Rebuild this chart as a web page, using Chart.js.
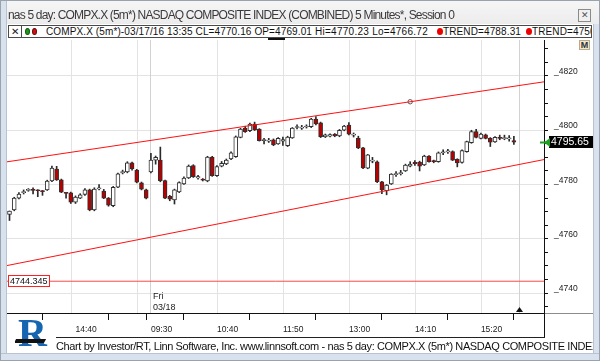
<!DOCTYPE html>
<html><head><meta charset="utf-8">
<script src="https://cdn.jsdelivr.net/npm/chart.js@4.4.1/dist/chart.umd.min.js"></script>
<style>
html,body{margin:0;padding:0;width:600px;height:361px;overflow:hidden;background:#fff;font-family:"Liberation Sans",Arial,sans-serif;}
#wrap{position:relative;width:600px;height:361px;overflow:hidden;}
.abs{position:absolute;}
.t{position:absolute;white-space:nowrap;line-height:1;}
#c{position:absolute;left:0;top:0;}
</style></head><body>
<div id="wrap">
  <div class="abs" style="left:0;top:0;width:600px;height:24px;background:linear-gradient(#f6f6f6,#ececec);"></div>
  <div class="abs" style="left:0;top:0;width:7px;height:361px;background:#d8e2ef;border-right:1px solid #b9c3d0;box-sizing:border-box;"></div>
  <div class="abs" style="left:593px;top:24px;width:7px;height:337px;background:#d8e2ef;border-left:1px solid #b9c3d0;box-sizing:border-box;"></div>
  <div class="abs" style="left:0;top:353px;width:600px;height:8px;background:#d8e2ef;border-top:1px solid #b9c3d0;box-sizing:border-box;"></div>
  <div class="abs" style="left:0;top:0;width:600px;height:361px;border:1px solid #9aa3ad;box-sizing:border-box;"></div>

  <canvas id="c" width="600" height="361"></canvas>

  <div class="t" id="title" style="left:8px;top:9px;font-size:12px;color:#3a3a3a;">nas 5 day: COMPX.X (5m*) NASDAQ COMPOSITE INDEX (COMBINED) 5 Minutes*, Session 0</div>
  <div class="abs" style="left:578px;top:9px;width:11px;height:11px;border:1px solid #8a8a8a;background:#f0f0f0;font-size:9px;line-height:11px;text-align:center;color:#555;">&#x2715;</div>

  <div class="abs" style="left:8px;top:25px;width:584px;height:13px;border:1px solid #4a4a4a;background:#fff;box-sizing:border-box;overflow:hidden;">
    <div class="abs" style="left:0px;top:0px;width:12px;height:11px;border-right:1px solid #4a4a4a;font-size:10px;line-height:11px;text-align:center;color:#222;">&#x2715;</div>
    <div class="abs" style="left:16px;top:2px;width:5px;height:7px;border-radius:50%;background:#1c9a1c;border:1px solid #135c13;box-sizing:border-box;"></div>
    <div class="abs" style="left:23px;top:2px;width:5px;height:7px;border-radius:50%;background:#d41010;border:1px solid #6d0b0b;box-sizing:border-box;"></div>
    <div class="t" id="lg1" style="left:37px;top:1px;font-size:10px;color:#111;">COMPX.X (5m*)-03/17/16 13:35 CL=4770.16 OP=4769.01</div>
    <div class="t" id="lg2" style="left:306px;top:1px;font-size:10px;color:#111;">Hi=4770.23 Lo=4766.72</div>
    <div class="abs" style="left:428px;top:2px;width:6px;height:7px;border-radius:50%;background:#ee0000;"></div>
    <div class="t" id="lg3" style="left:434px;top:1px;font-size:10px;color:#111;">TREND=4788.31</div>
    <div class="abs" style="left:517px;top:2px;width:6px;height:7px;border-radius:50%;background:#ee0000;"></div>
    <div class="t" id="lg4" style="left:523px;top:1px;font-size:10px;color:#111;">TREND=4750.14</div>
  </div>

  <div class="abs" style="left:268px;top:38px;width:17px;height:2px;background:#111;"></div>
  <div class="abs" style="left:579px;top:40px;width:11px;height:10px;background:#efe6cf;border:1px solid #b9ab88;box-sizing:border-box;font-size:9px;font-weight:bold;line-height:9px;text-align:center;color:#333;">M</div>

  <div class="abs" style="left:544px;top:313px;width:49px;height:1px;background:#8c8c8c;"></div>
  <div class="abs" style="left:544px;top:313px;width:1px;height:24px;background:#111;"></div>
  <div class="abs" style="left:56px;top:337px;width:489px;height:1px;background:#222;"></div>

  <div class="abs" style="left:15px;top:318px;width:34px;height:34px;overflow:hidden;">
    <div class="abs" style="left:3px;top:-5px;font-family:'Liberation Serif',serif;font-weight:bold;font-size:40px;color:#1565b0;line-height:1;">R</div>
    <div class="abs" style="left:0px;top:21px;width:30px;height:4px;background:#111;transform:skewX(-30deg);"></div>
  </div>

  <div class="abs" style="left:56px;top:340px;width:537px;height:13px;overflow:hidden;">
    <div class="t" id="foot" style="left:0;top:1px;font-size:11px;color:#111;">Chart by Investor/RT, Linn Software, Inc. www.linnsoft.com - nas 5 day: COMPX.X (5m*) NASDAQ COMPOSITE INDEX</div>
  </div>
</div>
<script>
// ---- categories (5-minute bars) ----
const day1Times = ['13:30','13:35','13:40','13:45','13:50','13:55','14:00','14:05','14:10','14:15','14:20','14:25','14:30','14:35','14:40','14:45','14:50','14:55','15:00','15:05','15:10','15:15','15:20','15:25','15:30','15:35','15:40','15:45','15:50','15:55'];
const day2Times = ['09:30','09:35','09:40','09:45','09:50','09:55','10:00','10:05','10:10','10:15','10:20','10:25','10:30','10:35','10:40','10:45','10:50','10:55','11:00','11:05','11:10','11:15','11:20','11:25','11:30','11:35','11:40','11:45','11:50','11:55','12:00','12:05','12:10','12:15','12:20','12:25','12:30','12:35','12:40','12:45','12:50','12:55','13:00','13:05','13:10','13:15','13:20','13:25','13:30','13:35','13:40','13:45','13:50','13:55','14:00','14:05','14:10','14:15','14:20','14:25','14:30','14:35','14:40','14:45','14:50','14:55','15:00','15:05','15:10','15:15','15:20','15:25','15:30','15:35','15:40','15:45','15:50','15:55'];

// ---- series values (OHLC) ----
const opens  = [4769.0,4770.6,4775.0,4777.0,4777.8,4778.2,4778.0,4777.6,4778.0,4781.3,4785.7,4781.7,4776.9,4776.9,4773.5,4775.0,4776.3,4778.0,4770.6,4778.4,4777.6,4775.0,4772.2,4779.0,4784.3,4784.6,4788.0,4785.3,4780.6,4778.0,
                4784.6,4789.0,4789.0,4781.4,4775.6,4774.3,4777.3,4780.2,4782.4,4787.0,4782.4,4782.0,4781.3,4790.1,4783.3,4786.8,4787.6,4789.4,4790.3,4797.4,4800.8,4799.8,4802.3,4800.4,4796.2,4796.0,4796.5,4795.0,4796.0,4794.3,4797.2,4801.0,4800.8,4801.2,4801.3,4804.1,4802.7,4797.6,4797.8,4798.5,4797.9,4800.0,4801.9,4798.2,4797.0,4793.5,4786.0,4788.6,4788.4,4781.0,4777.7,4780.2,4783.6,4784.0,4785.0,4786.8,4788.2,4788.3,4787.2,4790.5,4788.8,4788.4,4791.6,4792.0,4792.1,4789.3,4788.1,4792.1,4795.4,4799.5,4797.0,4798.3,4797.0,4795.7,4797.4,4796.9,4796.8,4796.2];
const highs  = [4770.23,4775.3,4777.0,4778.0,4778.5,4778.8,4778.1,4777.8,4781.6,4786.8,4786.7,4782.0,4777.0,4777.2,4775.8,4776.6,4778.5,4778.3,4778.8,4780.0,4778.2,4775.2,4779.3,4784.2,4785.3,4788.4,4788.3,4785.6,4780.9,4778.3,
                4791.5,4790.5,4793.8,4781.6,4776.0,4778.3,4781.0,4782.8,4787.2,4787.3,4783.4,4782.2,4790.4,4790.4,4787.0,4788.5,4789.4,4792.0,4797.9,4800.7,4801.5,4802.6,4803.0,4800.6,4797.0,4797.0,4796.8,4797.3,4797.5,4797.8,4801.0,4802.0,4801.8,4802.0,4804.4,4805.0,4803.0,4798.6,4798.7,4798.8,4800.3,4801.8,4802.8,4799.0,4797.8,4793.7,4791.1,4790.0,4788.7,4781.2,4780.0,4784.0,4784.8,4785.2,4787.5,4788.4,4788.8,4788.6,4790.8,4790.7,4789.0,4792.0,4792.8,4793.0,4792.4,4789.5,4792.8,4796.0,4800.0,4800.3,4799.0,4798.6,4797.3,4797.7,4798.2,4798.2,4798.0,4797.8];
const lows   = [4766.72,4770.3,4774.7,4776.5,4777.5,4776.5,4775.5,4776.0,4777.8,4781.0,4781.5,4777.0,4775.0,4773.0,4773.0,4774.8,4776.0,4770.3,4770.3,4778.0,4774.8,4772.0,4771.8,4778.8,4783.9,4784.3,4785.3,4780.6,4778.0,4774.7,
                4784.3,4787.5,4781.0,4774.8,4774.0,4772.8,4777.0,4780.0,4782.2,4782.6,4782.0,4781.3,4781.0,4783.0,4783.0,4786.5,4787.3,4789.2,4790.0,4797.2,4799.2,4799.5,4799.9,4796.0,4795.0,4795.5,4794.3,4794.8,4794.4,4794.0,4797.0,4800.5,4800.3,4800.8,4801.0,4802.0,4797.3,4797.3,4797.5,4797.6,4797.6,4799.8,4798.3,4797.5,4793.2,4785.8,4785.8,4788.0,4780.7,4776.6,4776.2,4780.0,4783.0,4783.5,4784.8,4786.5,4787.0,4785.0,4787.0,4788.2,4788.0,4788.2,4791.0,4791.5,4788.8,4786.5,4787.9,4791.9,4795.2,4797.2,4796.8,4796.8,4794.0,4795.5,4796.5,4796.5,4796.0,4794.8];
const closes = [4770.16,4775.0,4776.5,4777.4,4778.2,4777.8,4777.7,4777.4,4781.3,4786.1,4781.7,4777.2,4776.7,4773.5,4775.4,4776.2,4778.0,4770.6,4778.3,4778.8,4775.0,4772.4,4779.0,4783.9,4784.8,4788.0,4785.7,4780.9,4778.3,4775.0,
                4789.0,4790.0,4781.4,4775.0,4774.6,4778.0,4780.7,4782.4,4786.8,4782.9,4782.9,4781.6,4790.1,4783.3,4786.6,4787.8,4789.0,4791.7,4797.6,4800.4,4799.5,4802.3,4800.1,4796.2,4796.6,4796.4,4794.6,4797.0,4796.6,4797.5,4800.8,4801.3,4801.1,4801.5,4804.1,4802.3,4797.6,4798.3,4798.4,4797.9,4800.0,4801.5,4798.6,4798.4,4793.5,4786.1,4790.9,4789.0,4781.0,4778.0,4779.8,4783.8,4784.0,4784.4,4787.2,4787.5,4787.7,4786.8,4790.5,4788.4,4788.4,4791.7,4792.0,4792.3,4789.0,4788.0,4792.5,4795.8,4799.5,4797.4,4798.6,4797.0,4795.6,4797.4,4797.0,4797.2,4797.0,4795.65];

// ---- drawn studies ----
const upperTrend = [4788.5, 4816.2];   // value at first bar, value at last bar
const lowerTrend = [4750.3, 4787.0];
const trendAnchorTime = '03/18 14:05';
const levelLine = 4744.345;
const lastPrice = 4795.65;

// ---- tick labels ----
const priceTicks = [4740, 4760, 4780, 4800, 4820];
const timeTicks = ['03/17 14:40','03/17 15:50','03/18 09:30','03/18 10:40','03/18 11:50','03/18 13:00','03/18 14:10','03/18 15:20'];
const timeTickLabels = ['14:40','','09:30','10:40','11:50','13:00','14:10','15:20'];
const gridTimes = ['03/17 14:35','03/17 15:45','03/18 10:40','03/18 11:50','03/18 13:00','03/18 14:10','03/18 15:20'];
const dayLabel = ['Fri','03/18'];

const times = day1Times.map(t => '03/17 ' + t).concat(day2Times.map(t => '03/18 ' + t));
const n = times.length;
const X_MIN = -0.53, X_MAX = 113.39;
const trendAt = (tr, s) => tr[0] + (tr[1] - tr[0]) * s / (n - 1);

const wickData = times.map((t, i) => ({x: i, y: [lows[i], highs[i]]}));
const bodyData = times.map((t, i) => ({x: i, y: [opens[i], closes[i]]}));
const bodyColors = times.map((t, i) => closes[i] >= opens[i] ? '#ffffff' : '#b80000');
const anchorIdx = times.indexOf(trendAnchorTime);

const FONT = '"Liberation Sans", Arial, sans-serif';

const overlay = {
  id: 'overlay',
  beforeDatasetsDraw(chart) {
    const {ctx, chartArea: a, scales: {x}} = chart;
    ctx.save();
    ctx.lineWidth = 1;
    ctx.strokeStyle = '#e3e3e3';
    gridTimes.forEach(t => {
      const px = Math.round(x.getPixelForValue(times.indexOf(t))) + 0.5;
      ctx.beginPath(); ctx.moveTo(px, a.top); ctx.lineTo(px, a.bottom); ctx.stroke();
    });
    ctx.strokeStyle = '#d2d2d2';
    [day1Times.length - 0.2, n].forEach(v => {
      const px = Math.round(x.getPixelForValue(v)) + 0.5;
      ctx.beginPath(); ctx.moveTo(px, a.top); ctx.lineTo(px, a.bottom); ctx.stroke();
    });
    ctx.restore();
  },
  afterDraw(chart) {
    const {ctx, chartArea: a, scales: {x, y}} = chart;
    ctx.save();
    const dx = x.getPixelForValue(day1Times.length) + 2;
    ctx.fillStyle = '#222';
    ctx.font = '9px ' + FONT;
    ctx.textBaseline = 'middle';
    ctx.fillText(dayLabel[0], dx, 297);
    ctx.fillText(dayLabel[1], dx, 308);
    const ly = Math.round(y.getPixelForValue(levelLine));
    ctx.fillStyle = '#fff';
    ctx.fillRect(8, ly - 6, 41, 12);
    ctx.strokeStyle = '#ff2020';
    ctx.strokeRect(8.5, ly - 5.5, 41, 11);
    ctx.fillStyle = '#111';
    ctx.font = '9px ' + FONT;
    ctx.fillText(levelLine.toFixed(3), 10, ly + 0.5);
    const tx = Math.round(x.getPixelForValue(n)) + 0.5;
    ctx.fillStyle = '#111';
    ctx.beginPath(); ctx.moveTo(tx, a.bottom - 6); ctx.lineTo(tx - 3.5, a.bottom - 1); ctx.lineTo(tx + 3.5, a.bottom - 1); ctx.closePath(); ctx.fill();
    const py = Math.round(y.getPixelForValue(lastPrice));
    ctx.fillStyle = '#000';
    ctx.fillRect(549, py - 6, 44, 12);
    ctx.fillStyle = '#fff';
    ctx.font = '10.5px ' + FONT;
    ctx.fillText(lastPrice.toFixed(2), 551, py + 0.5);
    ctx.fillStyle = '#20a020';
    ctx.fillRect(540, py - 0.5, 6, 2);
    ctx.beginPath(); ctx.moveTo(544, py + 0.5); ctx.lineTo(550, py - 4); ctx.lineTo(550, py + 5); ctx.closePath(); ctx.fill();
    ctx.restore();
  }
};

const lineDs = (tr, color) => ({
  type: 'line',
  data: [{x: X_MIN, y: trendAt(tr, X_MIN)}, {x: X_MAX, y: trendAt(tr, X_MAX)}],
  borderColor: color, borderWidth: 1, pointRadius: 0, order: 0, tension: 0
});

new Chart(document.getElementById('c'), {
  type: 'bar',
  data: {
    datasets: [
      {data: wickData, backgroundColor: '#2a2a2a', barThickness: 1, grouped: false, order: 3, borderWidth: 0},
      {data: bodyData, backgroundColor: bodyColors, borderColor: '#2f2f2f', borderWidth: 1, borderSkipped: false,
       barThickness: 4, grouped: false, order: 2, minBarLength: 1},
      lineDs(upperTrend, '#ff1010'),
      lineDs(lowerTrend, '#ff1010'),
      {type: 'line', data: [{x: X_MIN, y: levelLine}, {x: X_MAX, y: levelLine}], borderColor: '#ff4a4a', borderWidth: 1, pointRadius: 0, order: 0},
      {type: 'line', data: [{x: anchorIdx, y: trendAt(upperTrend, anchorIdx)}], showLine: false, pointRadius: 2.2,
       pointBackgroundColor: '#ffffff', pointBorderColor: '#555', pointBorderWidth: 1, order: 0}
    ]
  },
  options: {
    responsive: false, animation: false, events: [],
    layout: {padding: {left: 7, top: 40, right: 0, bottom: 0}},
    plugins: {legend: {display: false}, tooltip: {enabled: false}},
    scales: {
      x: {
        type: 'linear', min: X_MIN, max: X_MAX, offset: false, position: 'bottom',
        afterFit: s => { s.height = 48; },
        afterBuildTicks: s => { s.ticks = timeTicks.map(t => ({value: times.indexOf(t)})); },
        grid: {drawOnChartArea: false, drawTicks: true, tickLength: 7, tickColor: '#111', tickWidth: 1},
        border: {display: true, color: '#111', width: 1},
        ticks: {autoSkip: false, maxRotation: 0, align: 'start', padding: 5, color: '#222',
                font: {family: FONT, size: 8.5},
                callback: (v, i) => timeTickLabels[i]}
      },
      y: {
        type: 'linear', position: 'right', min: 4732.63, max: 4833.27,
        afterFit: s => { s.width = 56; },
        afterBuildTicks: s => {
          const t = [];
          for (let v = priceTicks[0] - 5; v <= priceTicks[priceTicks.length - 1] + 10; v += 5) t.push({value: v});
          s.ticks = t;
        },
        grid: {drawTicks: true, tickLength: 4, tickColor: '#111',
               color: ctx => (ctx.tick && priceTicks.includes(ctx.tick.value)) ? '#e3e3e3' : 'rgba(0,0,0,0)'},
        border: {display: true, color: '#111', width: 1},
        ticks: {autoSkip: false, padding: 6, color: '#222', font: {family: FONT, size: 8.5, lineHeight: 1},
                callback: v => priceTicks.includes(v) ? ['_' + v, ''] : ''}
      }
    }
  },
  plugins: [overlay]
});

function fit(id, w) {
  const el = document.getElementById(id);
  const nat = el.getBoundingClientRect().width;
  el.style.letterSpacing = ((w - nat) / el.textContent.length) + 'px';
}
fit('title', 446);
fit('lg1', 266);
fit('lg2', 113);
fit('lg3', 78);
fit('lg4', 78);
fit('foot', 543);
</script>
</body></html>
